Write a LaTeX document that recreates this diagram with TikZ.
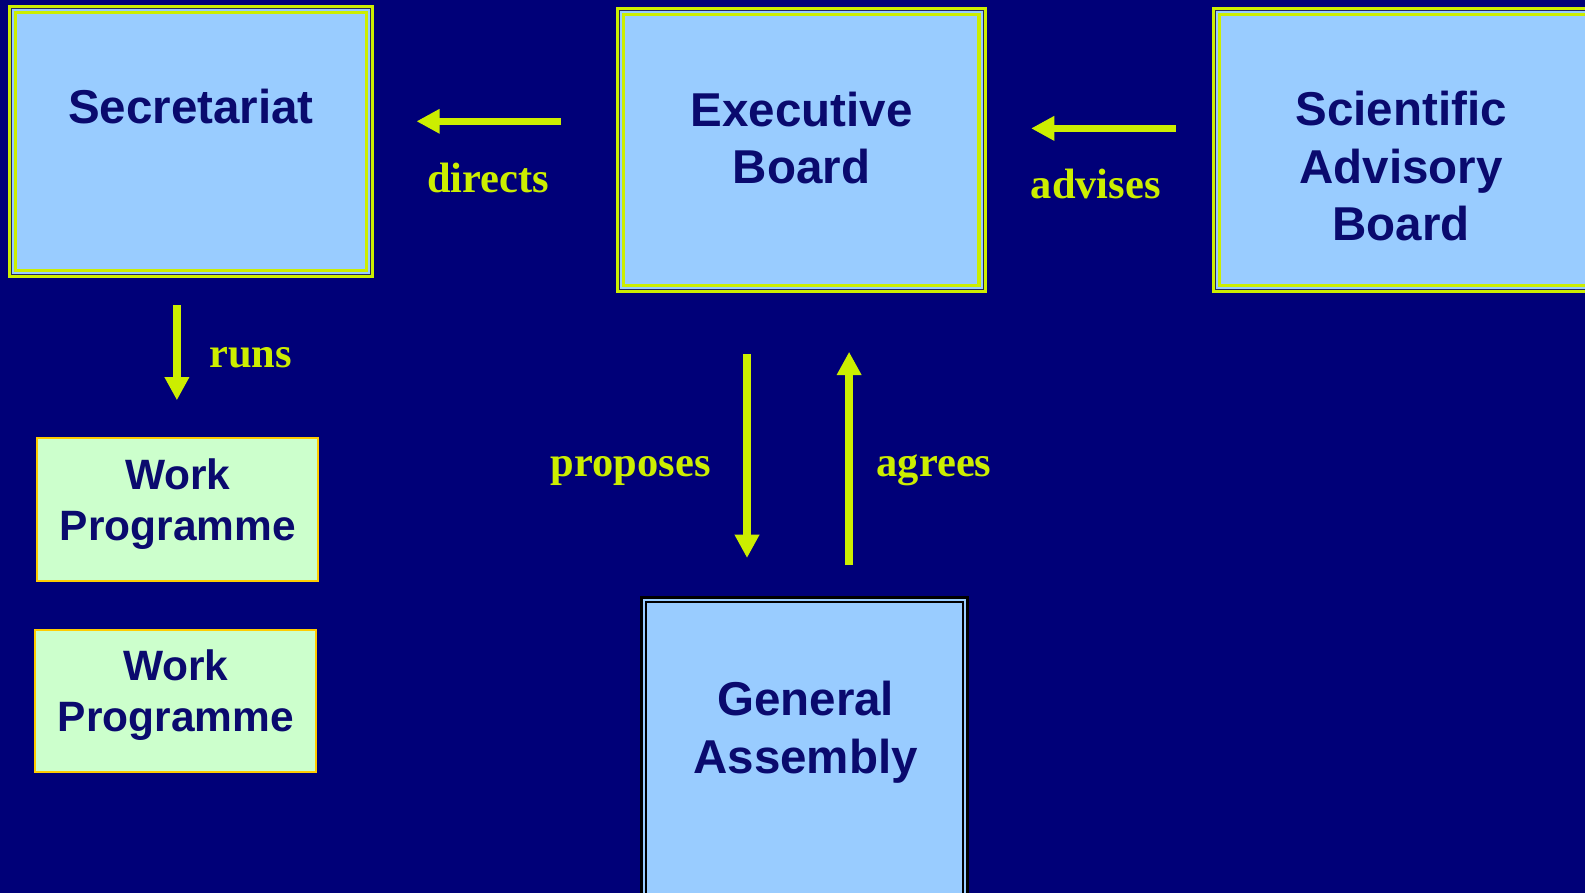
\documentclass[tikz,border=0pt]{standalone}
\usepackage{fontspec}
\setmainfont{Liberation Serif}
\newfontfamily\boxfont{Liberation Sans}
\usetikzlibrary{arrows.meta}
\definecolor{bgnavy}{RGB}{0,0,120}
\definecolor{lblue}{RGB}{153,204,255}
\definecolor{ygreen}{RGB}{204,238,0}
\definecolor{dkline}{RGB}{40,40,90}
\definecolor{lgreen}{RGB}{204,255,204}
\definecolor{wporange}{RGB}{255,204,0}
\definecolor{txtnavy}{RGB}{10,10,110}
\tikzset{
  blubox/.style={fill=lblue, draw=ygreen, line width=1.5pt, outer sep=0pt, inner sep=0pt},
  innerdark/.style={draw=dkline, line width=0.5pt},
  inneryel/.style={draw=ygreen, line width=1.7pt},
  gabox/.style={fill=lblue, draw=black, line width=1.5pt, outer sep=0pt, inner sep=0pt},
  gainner/.style={draw=black, line width=1pt},
  wpbox/.style={fill=lgreen, draw=wporange, line width=1pt, outer sep=0pt, inner sep=0pt},
  bigtxt/.style={font=\boxfont\bfseries\fontsize{23.5pt}{28pt}\selectfont, text=txtnavy, anchor=base, inner sep=0pt},
  wptxt/.style={font=\boxfont\bfseries\fontsize{21pt}{25pt}\selectfont, text=txtnavy, anchor=base, inner sep=0pt},
  lbl/.style={font=\bfseries\fontsize{21pt}{25pt}\selectfont, text=ygreen, anchor=base, inner sep=0pt},
  arr/.style={draw=ygreen, line width=3.7pt, -{Triangle[length=11.5pt,width=11.5pt]}},
}
\begin{document}
\begin{tikzpicture}[x=0.5pt,y=-0.5pt]
\useasboundingbox (0,0) rectangle (1568,883.4);
\clip (0,0) rectangle (1568,883.4);
\fill[bgnavy] (0,0) rectangle (1568,883.4);

% Secretariat
\node[blubox, minimum width=179.5pt, minimum height=133.5pt] (sec) at (189,140) {};
\draw[innerdark] ([shift={(2,2)}]sec.north west) rectangle ([shift={(-2,-2)}]sec.south east);
\draw[inneryel] ([shift={(6,6)}]sec.north west) rectangle ([shift={(-6,-6)}]sec.south east);
\node[bigtxt] (sectxt) at (189,122) {Secretariat};

% Executive Board
\node[blubox, minimum width=181.8pt, minimum height=140pt] (exec) at (792.7,148.4) {};
\draw[innerdark] ([shift={(2,2)}]exec.north west) rectangle ([shift={(-2,-2)}]exec.south east);
\draw[inneryel] ([shift={(6,6)}]exec.north west) rectangle ([shift={(-6,-6)}]exec.south east);
\node[bigtxt] (exectxt1) at (793,125) {Executive};
\node[bigtxt] (exectxt2) at (793,182) {Board};

% Scientific Advisory Board
\node[blubox, minimum width=199pt, minimum height=140pt] (sci) at (1399.5,148.6) {};
\draw[innerdark] ([shift={(2,2)}]sci.north west) rectangle ([shift={(-2,-2)}]sci.south east);
\draw[inneryel] ([shift={(6,6)}]sci.north west) rectangle ([shift={(-6,-6)}]sci.south east);
\node[bigtxt] (scitxt1) at (1386,124) {Scientific};
\node[bigtxt] (scitxt2) at (1386,182) {Advisory};
\node[bigtxt] (scitxt3) at (1386,238) {Board};

% Work Programmes
\node[wpbox, minimum width=139pt, minimum height=71pt] (wp1) at (175.6,504) {};
\node[wptxt] (wp1a) at (176,484) {Work};
\node[wptxt] (wp1b) at (176,535) {Programme};
\node[wpbox, minimum width=139pt, minimum height=70.5pt] (wp2) at (174,693.5) {};
\node[wptxt] (wp2a) at (174,673) {Work};
\node[wptxt] (wp2b) at (174,724) {Programme};

% General Assembly
\node[gabox, minimum width=161.5pt, minimum height=153.5pt] (ga) at (796,745) {};
\draw[gainner] ([shift={(4.5,4.5)}]ga.north west) rectangle ([shift={(-4.5,-4.5)}]ga.south east);
\node[bigtxt] (gatxt1) at (797,708) {General};
\node[bigtxt] (gatxt2) at (797,765) {Assembly};

% arrows
\coordinate (dirS) at (555,120);
\coordinate (dirE) at (412,120);
\coordinate (advS) at (1163,127);
\coordinate (advE) at (1020,127);
\coordinate (runS) at (175,302);
\coordinate (runE) at (175,396);
\coordinate (proS) at (739,350);
\coordinate (proE) at (739,552);
\coordinate (agrS) at (840,559);
\coordinate (agrE) at (840,348);
\draw[arr] (dirS) -- (dirE);
\draw[arr] (advS) -- (advE);
\draw[arr] (runS) -- (runE);
\draw[arr] (proS) -- (proE);
\draw[arr] (agrS) -- (agrE);

% labels
\node[lbl] (ldir) at (483,190) {directs};
\node[lbl] (ladv) at (1084,196) {advises};
\node[lbl] (lrun) at (248,364) {runs};
\node[lbl] (lpro) at (624,471) {proposes};
\node[lbl] (lagr) at (924,471) {agrees};
\end{tikzpicture}
\end{document}
